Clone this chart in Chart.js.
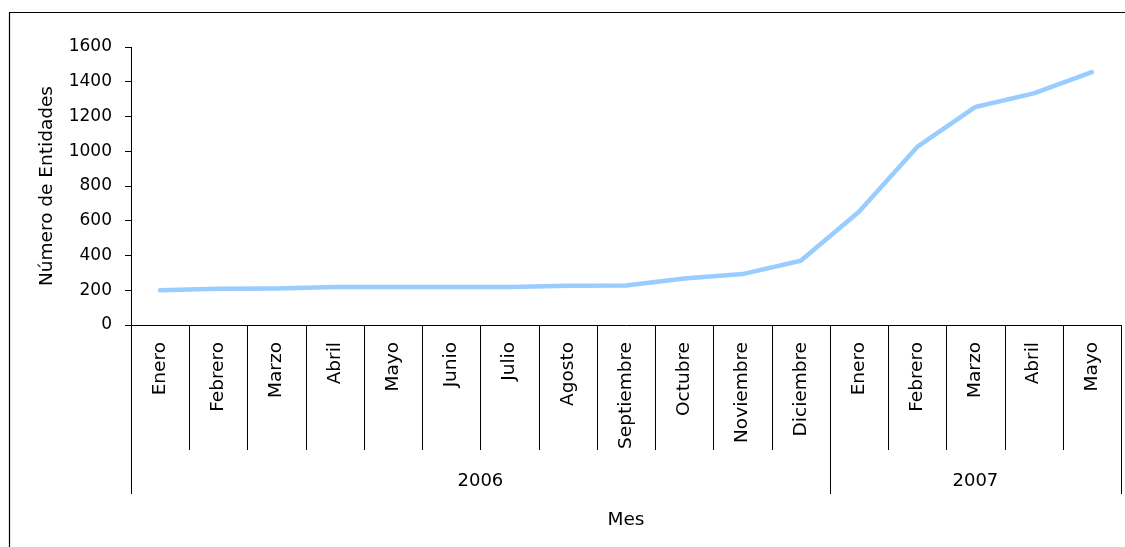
<!DOCTYPE html>
<html>
<head>
<meta charset="utf-8">
<script src="https://cdn.jsdelivr.net/npm/chart.js@4.4.0/dist/chart.umd.min.js"></script>
<style>
  html, body { margin: 0; padding: 0; background: #fff; }
  #wrap { width: 1125px; height: 547px; }
</style>
</head>
<body>
<div id="wrap"><canvas id="c" width="1125" height="547"></canvas></div>
<script>
const months = ['Enero','Febrero','Marzo','Abril','Mayo','Junio','Julio','Agosto','Septiembre','Octubre','Noviembre','Diciembre','Enero','Febrero','Marzo','Abril','Mayo'];
const entidades = [200, 208, 210, 218, 218, 218, 218, 226, 227, 268, 293, 370, 652, 1025, 1255, 1333, 1455];
const years = ['2006', '2007'];
const yearSpans = [12, 5];
const yTicks = [0, 200, 400, 600, 800, 1000, 1200, 1400, 1600];

const FONT = "'DejaVu Sans', Verdana, sans-serif";

const groupAxisPlugin = {
  id: 'groupAxis',
  beforeDraw(chart) {
    const ctx = chart.ctx;
    ctx.save();
    ctx.fillStyle = '#fff';
    ctx.fillRect(0, 0, chart.width, chart.height);
    ctx.strokeStyle = '#000';
    ctx.lineWidth = 1.2;
    ctx.beginPath();
    ctx.moveTo(9.5, chart.height + 5);
    ctx.lineTo(9.5, 12.5);
    ctx.lineTo(chart.width + 5, 12.5);
    ctx.stroke();
    ctx.restore();
  },
  afterDraw(chart) {
    const ctx = chart.ctx;
    const xs = chart.scales.x;
    const half = (xs.getPixelForValue(1) - xs.getPixelForValue(0)) / 2;
    const top = xs.top;
    ctx.save();
    ctx.strokeStyle = '#000';
    ctx.lineWidth = 1;
    const groupEdges = [0];
    let acc = 0;
    yearSpans.forEach(s => { acc += s; groupEdges.push(acc); });
    for (let i = 0; i <= months.length; i++) {
      const x = Math.round(xs.getPixelForValue(i) - half) + 0.5;
      const isGroup = groupEdges.includes(i);
      ctx.beginPath();
      ctx.moveTo(x, top);
      ctx.lineTo(x, top + (isGroup ? 169 : 125));
      ctx.stroke();
    }
    ctx.fillStyle = '#000';
    ctx.font = '18px ' + FONT;
    ctx.textAlign = 'center';
    ctx.textBaseline = 'middle';
    for (let g = 0; g < years.length; g++) {
      const a = xs.getPixelForValue(groupEdges[g]) - half;
      const b = xs.getPixelForValue(groupEdges[g + 1]) - half;
      ctx.fillText(years[g], (a + b) / 2, top + 156);
    }
    ctx.restore();
  }
};

new Chart(document.getElementById('c'), {
  type: 'line',
  data: {
    labels: months,
    datasets: [{
      label: 'Número de Entidades',
      data: entidades,
      borderColor: '#99CCFF',
      backgroundColor: '#99CCFF',
      borderWidth: 4.5,
      pointRadius: 0,
      pointHoverRadius: 0,
      tension: 0,
      borderCapStyle: 'round',
      borderJoinStyle: 'round',
      fill: false
    }]
  },
  options: {
    responsive: false,
    devicePixelRatio: 1,
    animation: false,
    layout: { padding: { left: 0, top: 47, right: 4, bottom: 0 } },
    plugins: {
      legend: { display: false },
      tooltip: { enabled: false },
      title: { display: false }
    },
    scales: {
      x: {
        type: 'category',
        offset: true,
        grid: { display: false, drawOnChartArea: false, drawTicks: false },
        border: { display: true, color: '#000', width: 1 },
        ticks: {
          autoSkip: false,
          minRotation: 90,
          maxRotation: 90,
          padding: 17,
          color: '#000',
          font: { family: FONT, size: 18.5 }
        },
        title: {
          display: true,
          text: 'Mes',
          color: '#000',
          font: { family: FONT, size: 18.5 },
          padding: { top: 0, bottom: 16 }
        },
        afterFit(s) { s.height = 222; s.paddingLeft = 0; s.paddingRight = 0; }
      },
      y: {
        min: 0,
        max: 1600,
        afterBuildTicks(s) { s.ticks = yTicks.map(v => ({ value: v })); },
        grid: { display: true, drawOnChartArea: false, drawTicks: true, tickLength: 6, color: '#000' },
        border: { display: true, color: '#000', width: 1 },
        ticks: {
          padding: 13,
          color: '#000',
          font: { family: FONT, size: 17 },
          callback: v => String(v)
        },
        title: {
          display: true,
          text: 'Número de Entidades',
          color: '#000',
          font: { family: FONT, size: 18.5 },
          padding: { top: 36, bottom: 0 }
        },
        afterFit(s) { s.width = 131; s.paddingTop = 0; s.paddingBottom = 0; }
      }
    }
  },
  plugins: [groupAxisPlugin]
});
</script>
</body>
</html>
